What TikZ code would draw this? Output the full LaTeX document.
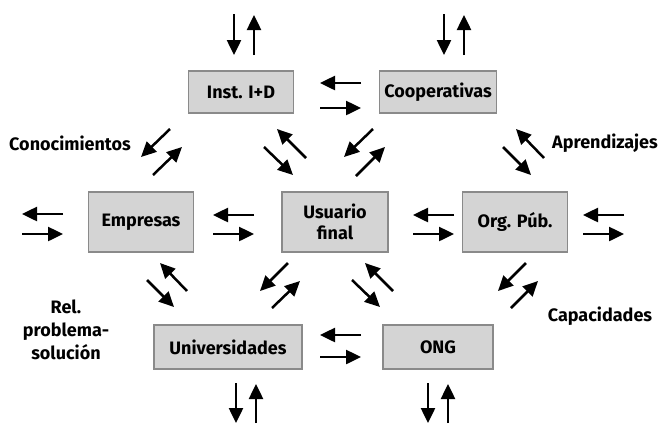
\documentclass[tikz,border=0pt]{standalone}
\usepackage{fontspec}
\setmainfont{Fira Sans}[BoldFont={Fira Sans Bold}]
\usetikzlibrary{arrows.meta}
\definecolor{boxfill}{HTML}{D4D4D4}
\definecolor{boxline}{HTML}{8A8A8A}
\begin{document}
\begin{tikzpicture}[x=1pt,y=-1pt,
  actor/.style={draw=boxline,fill=boxfill,line width=1.6pt,font=\bfseries\fontsize{18}{21}\selectfont,align=center,inner sep=0pt},
  flow/.style={line width=2.5pt,-{Triangle[length=15pt,width=14pt]}},
  lbl/.style={font=\bfseries\fontsize{18}{23}\selectfont,align=center}]
\useasboundingbox (0,0) rectangle (662,424);
% boxes
\node[actor,minimum width=105pt,minimum height=42pt] (inst) at (241,92) {Inst. I+D};
\node[actor,minimum width=117pt,minimum height=42pt] (coop) at (438,92) {Cooperativas};
\node[actor,minimum width=105pt,minimum height=60pt] (emp) at (141,222) {Empresas};
\node[actor,minimum width=106pt,minimum height=60pt] (usu) at (335,222) {Usuario\\final};
\node[actor,minimum width=105pt,minimum height=60pt] (org) at (515,222) {Org. Púb.};
\node[actor,minimum width=148pt,minimum height=44pt] (uni) at (228,347) {Universidades};
\node[actor,minimum width=110pt,minimum height=44pt] (ong) at (438,347) {ONG};
% labels
\node[lbl] (lcon) at (70,143) {Conocimientos};
\node[lbl] (lapr) at (605,143) {Aprendizajes};
\node[lbl] (lcap) at (600,316) {Capacidades};
\node[lbl] (lrel) at (66,330) {Rel.\\problema-\\solución};
% vertical pairs
\draw[flow] (234,14) -- (234,55);
\draw[flow] (254,55) -- (254,15);
\draw[flow] (444,14) -- (444,55);
\draw[flow] (464,55) -- (464,15);
\draw[flow] (236,383) -- (236,423);
\draw[flow] (256,423) -- (256,384);
\draw[flow] (428,383) -- (428,423);
\draw[flow] (448,423) -- (448,384);
% horizontal pairs
\draw[flow] (361,83) -- (320,83);
\draw[flow] (320,108) -- (361,108);
\draw[flow] (63,214) -- (22,214);
\draw[flow] (22,234) -- (63,234);
\draw[flow] (254,215) -- (213,215);
\draw[flow] (213,234) -- (254,234);
\draw[flow] (454,215) -- (413,215);
\draw[flow] (413,234) -- (454,234);
\draw[flow] (624,215) -- (583,215);
\draw[flow] (583,234) -- (624,234);
\draw[flow] (361,335) -- (320,335);
\draw[flow] (320,357) -- (361,357);
% diagonal pairs
\draw[flow] (170,129) -- (141,157);
\draw[flow] (153,175) -- (182,147);
\draw[flow] (264,147) -- (293,175);
\draw[flow] (306,158) -- (277,129);
\draw[flow] (373,129) -- (344,157);
\draw[flow] (356,176) -- (385,147);
\draw[flow] (544,158) -- (516,129);
\draw[flow] (503,147) -- (531,175);
\draw[flow] (187,291) -- (160,263);
\draw[flow] (147,280) -- (174,307);
\draw[flow] (288,263) -- (260,291);
\draw[flow] (272,308) -- (300,281);
\draw[flow] (352,280) -- (380,307);
\draw[flow] (393,291) -- (365,263);
\draw[flow] (526,263) -- (498,291);
\draw[flow] (511,308) -- (538,281);
\end{tikzpicture}
\end{document}
